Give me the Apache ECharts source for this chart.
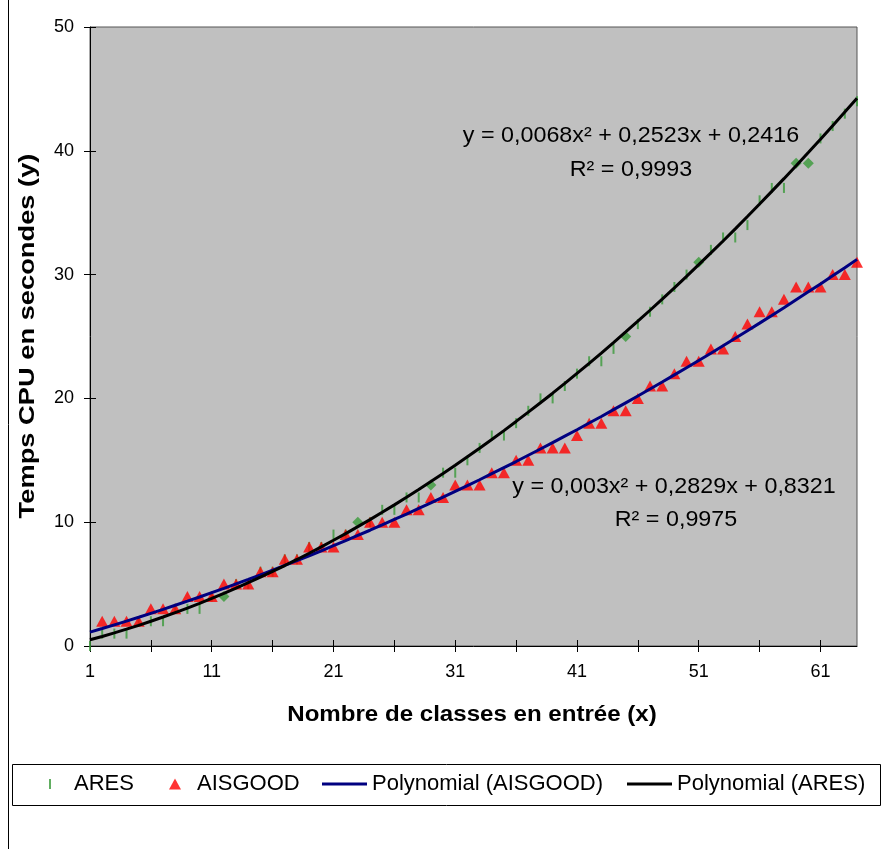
<!DOCTYPE html>
<html>
<head>
    <meta charset="utf-8">
    <title>Temps CPU</title>
    <script src="https://cdn.jsdelivr.net/npm/echarts@6/dist/echarts.min.js"></script>
    <style>
        body { margin: 0; background: #fff; }
        #main { width: 885px; height: 849px; }
    </style>
</head>
<body>
<div id="main"></div>
<script type="text/javascript">
// x categories (nombre de classes)
var xCats = ['1','2','3','4','5','6','7','8','9','10','11','12','13','14','15','16',
    '17','18','19','20','21','22','23','24','25','26','27','28','29','30','31','32',
    '33','34','35','36','37','38','39','40','41','42','43','44','45','46','47','48',
    '49','50','51','52','53','54','55','56','57','58','59','60','61','62','63','64'];

// ARES : temps mesures
var aresY = [0,1,1,1,2,2,2,3,3,3,4,4,5,5,6,6,
    7,7,8,8,9,9,10,10,11,11,12,12,13,14,14,15,
    16,17,17,18,19,20,20,21,22,23,23,24,25,26,27,28,
    29,30,31,32,33,33,34,36,37,37,39,39,41,42,43,44];
// points ARES dessines en losange
var aresDiamondAt = ['12','23','29','45','51','59','60'];

// AISGOOD : temps mesures
var aisY = [null,2,2,2,2,3,3,3,4,4,4,5,5,5,6,6,
    7,7,8,8,8,9,9,10,10,10,11,11,12,12,13,13,
    13,14,14,15,15,16,16,16,17,18,18,19,19,20,21,21,
    22,23,23,24,24,25,26,27,27,28,29,29,29,30,30,31];

// courbes de tendance
var aresTrend = [0.50,0.77,1.06,1.36,1.67,2.00,2.34,2.70,3.06,3.44,3.84,4.25,4.67,5.11,5.56,6.02,
    6.50,6.99,7.49,8.01,8.54,9.08,9.64,10.21,10.80,11.40,12.01,12.64,13.28,13.93,14.60,15.28,
    15.97,16.68,17.40,18.14,18.89,19.65,20.42,21.21,22.02,22.83,23.66,24.51,25.37,26.24,27.12,28.02,
    28.93,29.86,30.80,31.75,32.71,33.69,34.69,35.70,36.72,37.75,38.80,39.86,40.93,42.02,43.13,44.24];
var aisTrend = [1.12,1.41,1.71,2.01,2.32,2.64,2.96,3.29,3.62,3.96,4.31,4.66,5.02,5.38,5.75,6.13,
    6.51,6.90,7.29,7.69,8.10,8.51,8.93,9.35,9.78,10.22,10.66,11.11,11.56,12.02,12.49,12.96,
    13.43,13.92,14.41,14.90,15.41,15.91,16.43,16.95,17.47,18.01,18.54,19.09,19.64,20.19,20.76,21.32,
    21.90,22.48,23.06,23.65,24.25,24.86,25.47,26.08,26.70,27.33,27.97,28.61,29.25,29.90,30.56,31.23];

var aresEq = ['y = 0,0068x\u00B2 + 0,2523x + 0,2416', 'R\u00B2 = 0,9993'];
var aisEq = ['y = 0,003x\u00B2 + 0,2829x + 0,8321', 'R\u00B2 = 0,9975'];

var FONT = '"Liberation Sans", Arial, sans-serif';
var GREEN = '#3A9A3A';
var DASH = 'path://M0,0 L2,0 L2,10 L0,10 Z';

var aresData = aresY.map(function (v, i) {
    if (aresDiamondAt.indexOf(xCats[i]) >= 0) {
        return { value: v, symbol: 'diamond', symbolSize: [11, 11] };
    }
    return v;
});

var myChart = echarts.init(document.getElementById('main'));

var tickStyle = { color: '#000', width: 1 };
var legendText = function (padLeft) {
    return { fontSize: 22, color: '#000', fontFamily: FONT, padding: [0, 0, 0, padLeft] };
};
var note = function (txt, x, y, sx) {
    return { type: 'text', x: x, y: y, z: 100, scaleX: sx,
        style: { text: txt, font: '22px ' + FONT, fill: '#000', textAlign: 'center', textVerticalAlign: 'middle' } };
};

var option = {
    backgroundColor: '#fff',
    animation: false,
    textStyle: { fontFamily: FONT, color: '#000' },
    grid: {
        left: 90, top: 27, right: 28, bottom: 203,
        show: true, backgroundColor: '#C0C0C0', borderColor: '#555', borderWidth: 1
    },
    xAxis: [{
        type: 'category', data: xCats, boundaryGap: false,
        position: 'bottom',
        axisLine: { onZero: false, lineStyle: { color: '#000', width: 1 } },
        axisTick: { interval: 4, length: 6, lineStyle: tickStyle },
        axisLabel: { interval: 9, margin: 17, fontSize: 18, color: '#000', fontFamily: FONT },
        splitLine: { show: false }
    }, {
        type: 'category', data: xCats, boundaryGap: false,
        position: 'bottom',
        axisLine: { show: false, onZero: false },
        axisTick: { inside: true, interval: 4, length: 6, lineStyle: tickStyle },
        axisLabel: { show: false },
        splitLine: { show: false }
    }],
    yAxis: [{
        type: 'value', min: 0, max: 50, interval: 10,
        position: 'left',
        axisLine: { show: true, onZero: false, lineStyle: { color: '#000', width: 1 } },
        axisTick: { show: true, length: 6, lineStyle: tickStyle },
        axisLabel: { margin: 16, fontSize: 18, color: '#000', fontFamily: FONT },
        splitLine: { show: false }
    }, {
        type: 'value', min: 0, max: 50, interval: 10,
        position: 'left',
        axisLine: { show: false, onZero: false },
        axisTick: { show: true, inside: true, length: 6, lineStyle: tickStyle },
        axisLabel: { show: false },
        splitLine: { show: false }
    }],
    legend: [
        { data: [{ name: 'ARES', icon: DASH }], left: 49, top: 773, itemWidth: 2, itemHeight: 10,
          padding: 0, textStyle: legendText(18) },
        { data: [{ name: 'AISGOOD', icon: 'triangle' }], left: 169, top: 773, itemWidth: 12, itemHeight: 11,
          padding: 0, textStyle: legendText(11) },
        { data: [{ name: 'Polynomial (AISGOOD)', icon: 'rect' }], left: 322, top: 773, itemWidth: 45, itemHeight: 3,
          padding: 0, textStyle: legendText(0) },
        { data: [{ name: 'Polynomial (ARES)', icon: 'rect' }], left: 627, top: 773, itemWidth: 45, itemHeight: 3,
          padding: 0, textStyle: legendText(0) }
    ],
    graphic: [
        { type: 'rect', left: 10, top: 762, shape: { width: 868, height: 41 },
          style: { fill: 'none', stroke: '#000', lineWidth: 1 }, z: 0 },
        { type: 'line', shape: { x1: 8.5, y1: 0, x2: 8.5, y2: 849 },
          style: { stroke: '#000', lineWidth: 1 } },
        { type: 'text', x: 472, y: 715, scaleX: 1.095, z: 100,
          style: { text: 'Nombre de classes en entrée (x)', font: 'bold 22px ' + FONT, fill: '#000',
                   textAlign: 'center', textVerticalAlign: 'middle' } },
        { type: 'text', x: 28, y: 336, rotation: Math.PI / 2, scaleX: 1.24, z: 100,
          style: { text: 'Temps CPU en secondes (y)', font: 'bold 22px ' + FONT, fill: '#000',
                   textAlign: 'center', textVerticalAlign: 'middle' } },
        note(aresEq[0], 631, 136, 1.06),
        note(aresEq[1], 631, 170, 1.06),
        note(aisEq[0], 674, 487, 1.06),
        note(aisEq[1], 676, 520, 1.06)
    ],
    series: [{
        name: 'ARES', type: 'scatter', data: aresData,
        symbol: DASH, symbolSize: [2, 10],
        itemStyle: { color: GREEN }
    }, {
        name: 'AISGOOD', type: 'scatter', data: aisY,
        symbol: 'triangle', symbolSize: [12, 11],
        itemStyle: { color: '#FF0000' }
    }, {
        name: 'Polynomial (AISGOOD)', type: 'line', data: aisTrend,
        symbol: 'none', smooth: false,
        lineStyle: { color: '#000080', width: 3 },
        itemStyle: { color: '#000080' }
    }, {
        name: 'Polynomial (ARES)', type: 'line', data: aresTrend,
        symbol: 'none', smooth: false,
        lineStyle: { color: '#000000', width: 3 },
        itemStyle: { color: '#000000' }
    }]
};

myChart.setOption(option);
</script>
</body>
</html>
